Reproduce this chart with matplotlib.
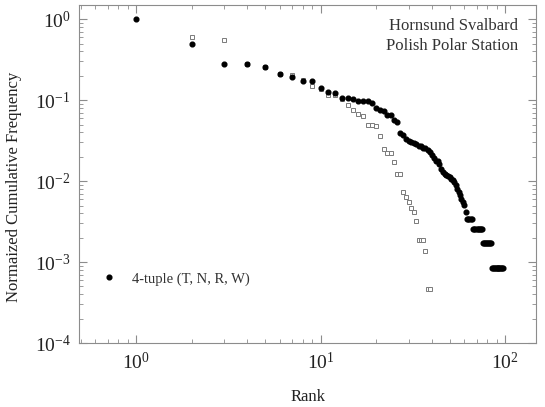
import numpy as np
import matplotlib.pyplot as plt

plt.rcParams['font.family'] = ['Liberation Serif', 'DejaVu Serif']
plt.rcParams['mathtext.fontset'] = 'stix'

# 4-tuple (T, N, R, W): filled circles, rank 1..97
tuple_rank = list(range(1, 62))
tuple_freq = [1.0, 0.487, 0.278, 0.278, 0.253, 0.208, 0.191, 0.172, 0.172, 0.143,
              0.127, 0.121, 0.105, 0.105, 0.102, 0.0972, 0.0972, 0.0972, 0.091, 0.079,
              0.0753, 0.0731, 0.0653, 0.0653, 0.0566, 0.053, 0.0388, 0.037, 0.0335, 0.0316,
              0.0303, 0.0292, 0.0284, 0.0274, 0.0268, 0.026, 0.0255, 0.0245, 0.023, 0.0209,
              0.0192, 0.0179, 0.0179, 0.0162, 0.0143, 0.0131, 0.0124, 0.0119, 0.0115, 0.0111,
              0.0107, 0.0103, 0.0097, 0.0089, 0.0081, 0.0074, 0.0068, 0.006, 0.0055, 0.00505,
              0.0042]
# tail plateaus (rank range, value)
tail = [(62, 66, 0.0034), (67, 75, 0.00255), (76, 84, 0.0017), (85, 97, 0.00085)]
for r0, r1, v in tail:
    tuple_rank += list(range(r0, r1 + 1))
    tuple_freq += [v] * (r1 - r0 + 1)

# second series: open squares
sq_rank = [2, 3, 4, 5, 6, 7, 8, 9, 10, 11, 12, 13, 14, 15, 16, 17, 18, 19, 20,
           21, 22, 23, 24, 25, 26, 27, 28, 29, 30, 31, 32, 33, 34, 35, 36, 37, 38, 39]
sq_freq = [0.605, 0.55, 0.28, 0.255, 0.21, 0.204, 0.175, 0.150, 0.137, 0.115,
           0.115, 0.102, 0.0867, 0.0753, 0.0672, 0.0634, 0.050, 0.050, 0.048,
           0.0362, 0.0246, 0.0224, 0.0224, 0.017, 0.0121, 0.0121, 0.00738, 0.0064, 0.00555,
           0.00468, 0.0041, 0.00323, 0.00185, 0.00185, 0.00185, 0.00138, 0.00046, 0.00046]

fig = plt.figure(figsize=(5.45, 4.07), dpi=100)
ax = fig.add_axes([0.145, 0.157, 0.8385, 0.831])

ax.plot(sq_rank, sq_freq, 's', ms=3.2, mfc='white', mec='#7a7a7a', mew=0.7, zorder=2)
pts, = ax.plot(tuple_rank, tuple_freq, 'o', ms=3.4, color='black', zorder=3,
               label='4-tuple (T, N, R, W)')

ax.set_xscale('log')
ax.set_yscale('log')
ax.set_xlim(0.49, 147)
ax.set_ylim(1e-4, 1.5)

for s in ax.spines.values():
    s.set_color('#8c8c8c')
ax.tick_params(which='both', direction='in', top=True, right=True, colors='#8c8c8c',
               labelcolor='#222222', labelsize=14)
ax.tick_params(which='major', length=6)
ax.tick_params(which='minor', length=3)
ax.tick_params(axis='x', pad=6)
ax.tick_params(axis='y', pad=6)

ax.set_xlabel('Rank', fontsize=12, color='#222222', labelpad=12)
ax.set_ylabel('Normaized Cumulative Frequency', fontsize=12, color='#222222')
ax.yaxis.set_label_coords(-0.125, 0.462)

ax.text(0.96, 0.962, 'Hornsund Svalbard\nPolish Polar Station', transform=ax.transAxes,
        ha='right', va='top', fontsize=12, color='#333333', linespacing=1.35)

ax.legend(handles=[pts], loc='center left', bbox_to_anchor=(0.036, 0.19), frameon=False,
          fontsize=10.5, handlelength=1.0, handletextpad=1.1, borderaxespad=0,
          labelcolor='#333333')

fig.savefig('out.png', dpi=100)
